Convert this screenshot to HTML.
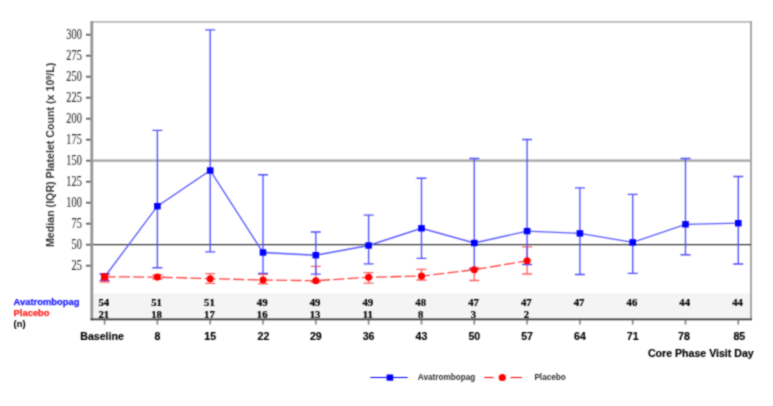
<!DOCTYPE html>
<html><head><meta charset="utf-8"><style>
html,body{margin:0;padding:0;background:#fff;width:773px;height:406px;overflow:hidden}
svg{display:block}
.yt{font-family:"Liberation Serif",serif;font-size:12.4px;fill:#333;stroke:#333;stroke-width:0.12px}
.tn{font-family:"Liberation Serif",serif;font-weight:bold;font-size:10.7px;fill:#000;stroke:#000;stroke-width:0.2px}
.xl{font-family:"Liberation Sans",sans-serif;font-weight:bold;font-size:10.6px;fill:#000;stroke:#000;stroke-width:0.15px}
.sl{font-family:"Liberation Sans",sans-serif;font-weight:bold;font-size:9.4px;stroke-width:0.25px}
.sl2{font-family:"Liberation Sans",sans-serif;font-weight:bold;font-size:9.4px;stroke:#222;stroke-width:0.1px}
.yl{font-family:"Liberation Sans",sans-serif;font-weight:bold;font-size:10.65px;fill:#333}
.lg{font-family:"Liberation Sans",sans-serif;font-weight:bold;font-size:8.2px;fill:#303030}
</style></head><body>
<svg width="773" height="406" viewBox="0 0 773 406">
<defs><filter id="bl" filterUnits="userSpaceOnUse" x="0" y="0" width="773" height="406" color-interpolation-filters="sRGB"><feConvolveMatrix order="3" kernelMatrix="1 2 1 2 8 2 1 2 1" divisor="20" edgeMode="duplicate" preserveAlpha="false"/></filter></defs>
<rect width="773" height="406" fill="#fff"/>
<g filter="url(#bl)"><rect width="773" height="406" fill="#fff"/>
<rect x="92.3" y="293.5" width="658.6" height="25.8" fill="#f4f4f4"/>
<line x1="92.3" y1="21.8" x2="751" y2="21.8" stroke="#b8b8b8" stroke-width="1.8"/>
<line x1="751" y1="21" x2="751" y2="320" stroke="#a8a8a8" stroke-width="2"/>
<line x1="92.3" y1="160.6" x2="751" y2="160.6" stroke="#a4a4a4" stroke-width="2.2"/>
<line x1="92.3" y1="244.6" x2="751" y2="244.6" stroke="#3a3a3a" stroke-width="1.4"/>
<line x1="86" y1="265.7" x2="92" y2="265.7" stroke="#606060" stroke-width="1.8"/>
<text transform="translate(81.8,269.9) scale(0.83,1.14)" text-anchor="end" class="yt">25</text>
<line x1="86" y1="244.7" x2="92" y2="244.7" stroke="#606060" stroke-width="1.8"/>
<text transform="translate(81.8,248.9) scale(0.83,1.14)" text-anchor="end" class="yt">50</text>
<line x1="86" y1="223.7" x2="92" y2="223.7" stroke="#606060" stroke-width="1.8"/>
<text transform="translate(81.8,227.9) scale(0.83,1.14)" text-anchor="end" class="yt">75</text>
<line x1="86" y1="202.7" x2="92" y2="202.7" stroke="#606060" stroke-width="1.8"/>
<text transform="translate(81.8,206.9) scale(0.83,1.14)" text-anchor="end" class="yt">100</text>
<line x1="86" y1="181.7" x2="92" y2="181.7" stroke="#606060" stroke-width="1.8"/>
<text transform="translate(81.8,185.9) scale(0.83,1.14)" text-anchor="end" class="yt">125</text>
<line x1="86" y1="160.7" x2="92" y2="160.7" stroke="#606060" stroke-width="1.8"/>
<text transform="translate(81.8,164.9) scale(0.83,1.14)" text-anchor="end" class="yt">150</text>
<line x1="86" y1="139.7" x2="92" y2="139.7" stroke="#606060" stroke-width="1.8"/>
<text transform="translate(81.8,143.9) scale(0.83,1.14)" text-anchor="end" class="yt">175</text>
<line x1="86" y1="118.7" x2="92" y2="118.7" stroke="#606060" stroke-width="1.8"/>
<text transform="translate(81.8,122.9) scale(0.83,1.14)" text-anchor="end" class="yt">200</text>
<line x1="86" y1="97.7" x2="92" y2="97.7" stroke="#606060" stroke-width="1.8"/>
<text transform="translate(81.8,101.9) scale(0.83,1.14)" text-anchor="end" class="yt">225</text>
<line x1="86" y1="76.7" x2="92" y2="76.7" stroke="#606060" stroke-width="1.8"/>
<text transform="translate(81.8,80.9) scale(0.83,1.14)" text-anchor="end" class="yt">250</text>
<line x1="86" y1="55.7" x2="92" y2="55.7" stroke="#606060" stroke-width="1.8"/>
<text transform="translate(81.8,59.9) scale(0.83,1.14)" text-anchor="end" class="yt">275</text>
<line x1="86" y1="34.7" x2="92" y2="34.7" stroke="#606060" stroke-width="1.8"/>
<text transform="translate(81.8,38.9) scale(0.83,1.14)" text-anchor="end" class="yt">300</text>
<path d="M104.6,274V282M99.6,274H109.6M99.6,282H109.6" stroke="#ff6060" stroke-width="1.3" fill="none"/>
<path d="M157.4,275V279M152.4,275H162.4M152.4,279H162.4" stroke="#ff6060" stroke-width="1.3" fill="none"/>
<path d="M210.2,273.6V283.4M205.2,273.6H215.2M205.2,283.4H215.2" stroke="#ff6060" stroke-width="1.3" fill="none"/>
<path d="M263.0,274.3V283.8M258.0,274.3H268.0M258.0,283.8H268.0" stroke="#ff6060" stroke-width="1.3" fill="none"/>
<path d="M315.8,266.3V282M310.8,266.3H320.8M310.8,282H320.8" stroke="#ff6060" stroke-width="1.3" fill="none"/>
<path d="M368.6,272.7V283.1M363.6,272.7H373.6M363.6,283.1H373.6" stroke="#ff6060" stroke-width="1.3" fill="none"/>
<path d="M421.5,269.3V280M416.5,269.3H426.5M416.5,280H426.5" stroke="#ff6060" stroke-width="1.3" fill="none"/>
<path d="M474.3,268V280.5M469.3,268H479.3M469.3,280.5H479.3" stroke="#ff6060" stroke-width="1.3" fill="none"/>
<path d="M527.1,246.8V274M522.1,246.8H532.1M522.1,274H532.1" stroke="#ff6060" stroke-width="1.3" fill="none"/>
<path d="M104.6,274V280.3M99.6,274H109.6M99.6,280.3H109.6" stroke="#5050ff" stroke-width="1.35" fill="none"/>
<path d="M157.4,130.3V267.7M152.4,130.3H162.4M152.4,267.7H162.4" stroke="#5050ff" stroke-width="1.35" fill="none"/>
<path d="M210.2,29.9V251.9M205.2,29.9H215.2M205.2,251.9H215.2" stroke="#5050ff" stroke-width="1.35" fill="none"/>
<path d="M263.0,174.7V273.4M258.0,174.7H268.0M258.0,273.4H268.0" stroke="#5050ff" stroke-width="1.35" fill="none"/>
<path d="M315.8,232V274.1M310.8,232H320.8M310.8,274.1H320.8" stroke="#5050ff" stroke-width="1.35" fill="none"/>
<path d="M368.6,215.1V263.8M363.6,215.1H373.6M363.6,263.8H373.6" stroke="#5050ff" stroke-width="1.35" fill="none"/>
<path d="M421.5,178.2V258.3M416.5,178.2H426.5M416.5,258.3H426.5" stroke="#5050ff" stroke-width="1.35" fill="none"/>
<path d="M474.3,158.5V269M469.3,158.5H479.3M469.3,269H479.3" stroke="#5050ff" stroke-width="1.35" fill="none"/>
<path d="M527.1,139.5V264.5M522.1,139.5H532.1M522.1,264.5H532.1" stroke="#5050ff" stroke-width="1.35" fill="none"/>
<path d="M579.9,187.9V274.5M574.9,187.9H584.9M574.9,274.5H584.9" stroke="#5050ff" stroke-width="1.35" fill="none"/>
<path d="M632.7,194.4V273.4M627.7,194.4H637.7M627.7,273.4H637.7" stroke="#5050ff" stroke-width="1.35" fill="none"/>
<path d="M685.5,158.5V254.7M680.5,158.5H690.5M680.5,254.7H690.5" stroke="#5050ff" stroke-width="1.35" fill="none"/>
<path d="M738.3,176.5V264M733.3,176.5H743.3M733.3,264H743.3" stroke="#5050ff" stroke-width="1.35" fill="none"/>
<polyline points="104.6,277 157.4,206.2 210.2,170.5 263.0,252.5 315.8,255.2 368.6,245.5 421.5,228.3 474.3,243 527.1,231.1 579.9,233.4 632.7,242.4 685.5,224.3 738.3,223.2" fill="none" stroke="#5a5aff" stroke-width="1.35"/>
<polyline points="104.6,276.8 157.4,277.1 210.2,278.7 263.0,280 315.8,280.7 368.6,277.2 421.5,276.1 474.3,269.7 527.1,260.8" fill="none" stroke="#ff4040" stroke-width="1.3" stroke-dasharray="11 3.3"/>
<rect x="101.3" y="273.8" width="6.6" height="6.4" fill="#0000ff"/>
<rect x="154.1" y="203.0" width="6.6" height="6.4" fill="#0000ff"/>
<rect x="206.9" y="167.3" width="6.6" height="6.4" fill="#0000ff"/>
<rect x="259.7" y="249.3" width="6.6" height="6.4" fill="#0000ff"/>
<rect x="312.5" y="252.0" width="6.6" height="6.4" fill="#0000ff"/>
<rect x="365.3" y="242.3" width="6.6" height="6.4" fill="#0000ff"/>
<rect x="418.2" y="225.1" width="6.6" height="6.4" fill="#0000ff"/>
<rect x="471.0" y="239.8" width="6.6" height="6.4" fill="#0000ff"/>
<rect x="523.8" y="227.9" width="6.6" height="6.4" fill="#0000ff"/>
<rect x="576.6" y="230.2" width="6.6" height="6.4" fill="#0000ff"/>
<rect x="629.4" y="239.2" width="6.6" height="6.4" fill="#0000ff"/>
<rect x="682.2" y="221.1" width="6.6" height="6.4" fill="#0000ff"/>
<rect x="735.0" y="220.0" width="6.6" height="6.4" fill="#0000ff"/>
<rect x="101.0" y="273.2" width="7.2" height="7.2" rx="1.6" fill="#ff0000"/>
<circle cx="157.4" cy="277.1" r="3.55" fill="#ff0000"/>
<circle cx="210.2" cy="278.7" r="3.55" fill="#ff0000"/>
<circle cx="263.0" cy="280" r="3.55" fill="#ff0000"/>
<circle cx="315.8" cy="280.7" r="3.55" fill="#ff0000"/>
<circle cx="368.6" cy="277.2" r="3.55" fill="#ff0000"/>
<circle cx="421.5" cy="276.1" r="3.55" fill="#ff0000"/>
<circle cx="474.3" cy="269.7" r="3.55" fill="#ff0000"/>
<circle cx="527.1" cy="260.8" r="3.55" fill="#ff0000"/>
<line x1="91.8" y1="21" x2="91.8" y2="320.3" stroke="#959595" stroke-width="2.8"/>
<line x1="90.5" y1="319.4" x2="752" y2="319.4" stroke="#3c3c3c" stroke-width="1.8"/>
<line x1="104.6" y1="320" x2="104.6" y2="324.6" stroke="#808080" stroke-width="1.6"/>
<text x="102.1" y="340.4" text-anchor="middle" class="xl">Baseline</text>
<text x="103.8" y="306.3" text-anchor="middle" class="tn">54</text>
<text x="103.8" y="317.6" text-anchor="middle" class="tn">21</text>
<line x1="157.4" y1="320" x2="157.4" y2="324.6" stroke="#808080" stroke-width="1.6"/>
<text x="157.4" y="340.4" text-anchor="middle" class="xl">8</text>
<text x="156.6" y="306.3" text-anchor="middle" class="tn">51</text>
<text x="156.6" y="317.6" text-anchor="middle" class="tn">18</text>
<line x1="210.2" y1="320" x2="210.2" y2="324.6" stroke="#808080" stroke-width="1.6"/>
<text x="210.2" y="340.4" text-anchor="middle" class="xl">15</text>
<text x="209.4" y="306.3" text-anchor="middle" class="tn">51</text>
<text x="209.4" y="317.6" text-anchor="middle" class="tn">17</text>
<line x1="263.0" y1="320" x2="263.0" y2="324.6" stroke="#808080" stroke-width="1.6"/>
<text x="263.5" y="340.4" text-anchor="middle" class="xl">22</text>
<text x="262.2" y="306.3" text-anchor="middle" class="tn">49</text>
<text x="262.2" y="317.6" text-anchor="middle" class="tn">16</text>
<line x1="315.8" y1="320" x2="315.8" y2="324.6" stroke="#808080" stroke-width="1.6"/>
<text x="315.8" y="340.4" text-anchor="middle" class="xl">29</text>
<text x="315.0" y="306.3" text-anchor="middle" class="tn">49</text>
<text x="315.0" y="317.6" text-anchor="middle" class="tn">13</text>
<line x1="368.6" y1="320" x2="368.6" y2="324.6" stroke="#808080" stroke-width="1.6"/>
<text x="368.6" y="340.4" text-anchor="middle" class="xl">36</text>
<text x="367.8" y="306.3" text-anchor="middle" class="tn">49</text>
<text x="367.8" y="317.6" text-anchor="middle" class="tn">11</text>
<line x1="421.5" y1="320" x2="421.5" y2="324.6" stroke="#808080" stroke-width="1.6"/>
<text x="421.5" y="340.4" text-anchor="middle" class="xl">43</text>
<text x="420.7" y="306.3" text-anchor="middle" class="tn">48</text>
<text x="420.7" y="317.6" text-anchor="middle" class="tn">8</text>
<line x1="474.3" y1="320" x2="474.3" y2="324.6" stroke="#808080" stroke-width="1.6"/>
<text x="474.3" y="340.4" text-anchor="middle" class="xl">50</text>
<text x="473.5" y="306.3" text-anchor="middle" class="tn">47</text>
<text x="473.5" y="317.6" text-anchor="middle" class="tn">3</text>
<line x1="527.1" y1="320" x2="527.1" y2="324.6" stroke="#808080" stroke-width="1.6"/>
<text x="527.1" y="340.4" text-anchor="middle" class="xl">57</text>
<text x="526.3" y="306.3" text-anchor="middle" class="tn">47</text>
<text x="526.3" y="317.6" text-anchor="middle" class="tn">2</text>
<line x1="579.9" y1="320" x2="579.9" y2="324.6" stroke="#808080" stroke-width="1.6"/>
<text x="579.9" y="340.4" text-anchor="middle" class="xl">64</text>
<text x="579.1" y="306.3" text-anchor="middle" class="tn">47</text>
<line x1="632.7" y1="320" x2="632.7" y2="324.6" stroke="#808080" stroke-width="1.6"/>
<text x="632.7" y="340.4" text-anchor="middle" class="xl">71</text>
<text x="631.9" y="306.3" text-anchor="middle" class="tn">46</text>
<line x1="685.5" y1="320" x2="685.5" y2="324.6" stroke="#808080" stroke-width="1.6"/>
<text x="684.0" y="340.4" text-anchor="middle" class="xl">78</text>
<text x="684.7" y="306.3" text-anchor="middle" class="tn">44</text>
<line x1="738.3" y1="320" x2="738.3" y2="324.6" stroke="#808080" stroke-width="1.6"/>
<text x="739.3" y="340.4" text-anchor="middle" class="xl">85</text>
<text x="737.5" y="306.3" text-anchor="middle" class="tn">44</text>
<text x="13.6" y="305" class="sl" fill="#1a1aff" stroke="#1a1aff">Avatrombopag</text>
<text x="13.6" y="316.2" class="sl" fill="#ff2020" stroke="#ff2020">Placebo</text>
<text x="13.6" y="327" class="sl2" fill="#000">(n)</text>
<text x="753.7" y="356.9" text-anchor="end" class="xl">Core Phase Visit Day</text>
<text transform="translate(54.2,154.9) rotate(-90)" text-anchor="middle" class="yl">Median (IQR) Platelet Count (x 10<tspan font-size="7" dy="-3.5">9</tspan><tspan dy="3.5">/L)</tspan></text>
<line x1="370.4" y1="377.5" x2="407.7" y2="377.5" stroke="#0000ff" stroke-width="1.1"/>
<rect x="386.6" y="374.5" width="6.6" height="6.2" fill="#0000ff"/>
<text x="417.8" y="380.1" class="lg">Avatrombopag</text>
<path d="M484.2,377.5H493.5M510.5,377.5H522" stroke="#ff0000" stroke-width="1.1"/>
<circle cx="502.3" cy="377.5" r="3.6" fill="#ff0000"/>
<text x="534.4" y="380.3" class="lg">Placebo</text>
</g>
</svg>
</body></html>
